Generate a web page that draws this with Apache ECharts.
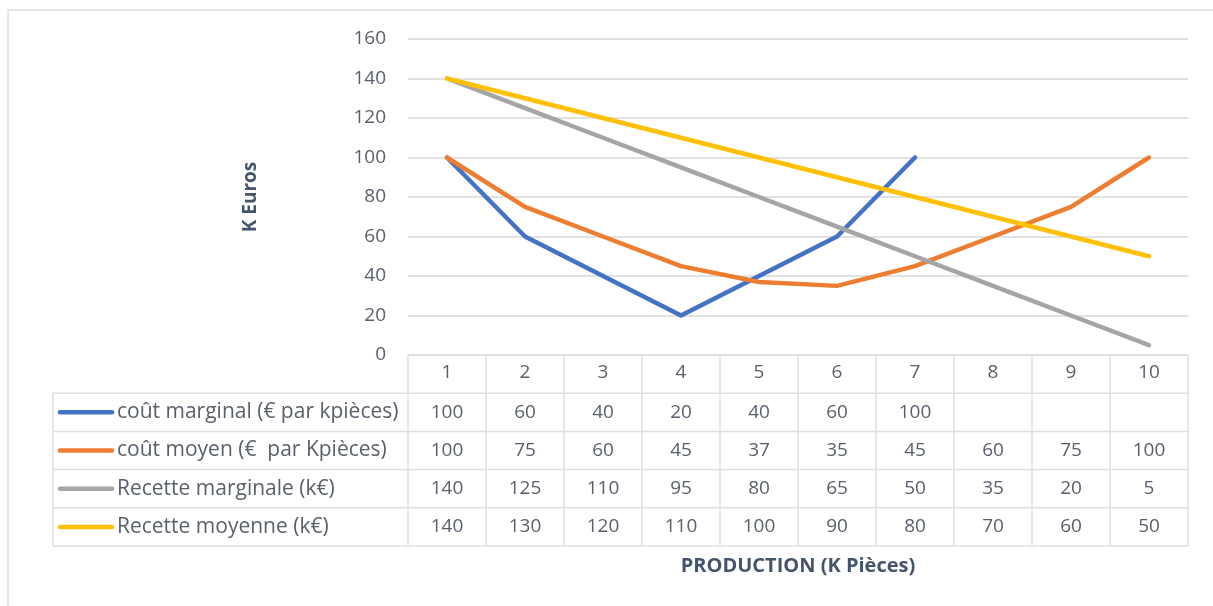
<!DOCTYPE html>
<html>
<head>
<meta charset="utf-8">
<script src="https://cdn.jsdelivr.net/npm/echarts@6/dist/echarts.min.js"></script>
<style>
  html, body { margin: 0; padding: 0; background: #fff; }
  #chart { width: 1213px; height: 606px; }
</style>
</head>
<body>
<div id="chart"></div>
<script>
// production levels (K pièces)
const production = ["1", "2", "3", "4", "5", "6", "7", "8", "9", "10"];
const coutMarginal = [100, 60, 40, 20, 40, 60, 100, null, null, null];
const coutMoyen = [100, 75, 60, 45, 37, 35, 45, 60, 75, 100];
const recetteMarginale = [140, 125, 110, 95, 80, 65, 50, 35, 20, 5];
const recetteMoyenne = [140, 130, 120, 110, 100, 90, 80, 70, 60, 50];
const seriesNames = [
  "coût marginal (€ par kpièces)",
  "coût moyen (€  par Kpièces)",
  "Recette marginale (k€)",
  "Recette moyenne (k€)"
];
const colors = ["#4472C4", "#ED7D31", "#A5A5A5", "#FFC000"];
const allData = [coutMarginal, coutMoyen, recetteMarginale, recetteMoyenne];

const FONT = "'Open Sans', 'Noto Sans', sans-serif";
const TXT = "#595f6b";
const LINE = "#dcdfe4";
const G_LEFT = 408, G_RIGHT = 25, G_TOP = 39, G_BOTTOM = 251;
const ROW_H = 38.2;
const TABLE_LEFT = 53;

let myChart = echarts.init(document.getElementById("chart"));

myChart.setOption({
  animation: false,
  color: colors,
  grid: { left: G_LEFT, right: G_RIGHT, top: G_TOP, bottom: G_BOTTOM },
  xAxis: {
    type: "category",
    data: production,
    boundaryGap: true,
    axisLine: { show: false },
    axisTick: { show: false },
    axisLabel: { color: TXT, fontSize: 19, fontFamily: FONT, margin: 8 },
    name: "PRODUCTION (K Pièces)",
    nameLocation: "middle",
    nameGap: 201,
    nameTextStyle: { color: "#44546a", fontSize: 20, fontWeight: "bold", fontFamily: FONT }
  },
  yAxis: {
    type: "value",
    min: 0,
    max: 160,
    interval: 20,
    axisLine: { show: false },
    axisTick: { show: false },
    splitLine: { lineStyle: { color: "#d9d9d9", width: 1.5 } },
    axisLabel: { color: TXT, fontSize: 19, fontFamily: FONT, margin: 22 },
    name: "K Euros",
    nameLocation: "middle",
    nameRotate: 90,
    nameGap: 148,
    nameTextStyle: { color: "#44546a", fontSize: 19, fontWeight: "bold", fontFamily: FONT }
  },
  series: seriesNames.map((n, i) => ({
    name: n,
    type: "line",
    data: allData[i],
    showSymbol: false,
    symbol: "none",
    lineStyle: { width: 4.5, color: colors[i], cap: "round", join: "round" },
    z: 2 + i
  }))
});

// data table under the plot, placed from the axis scale
function drawTable() {
  const els = [];
  const y0 = myChart.convertToPixel({ yAxisIndex: 0 }, 0);
  const x0 = G_LEFT;
  const x1 = 1213 - G_RIGHT;
  const band = (x1 - x0) / production.length;
  const bottom = y0 + ROW_H * 5;

  // outer frame of the chart area
  els.push({ type: "rect", shape: { x: 8, y: 10, width: 1230, height: 620 },
    style: { fill: null, stroke: LINE, lineWidth: 1.5 }, silent: true, z: 0 });

  // horizontal lines
  els.push({ type: "line", shape: { x1: x0, y1: y0, x2: x1, y2: y0 },
    style: { stroke: LINE, lineWidth: 1.5 }, z: 1 });
  for (let r = 1; r <= 5; r++) {
    const y = y0 + ROW_H * r;
    els.push({ type: "line", shape: { x1: TABLE_LEFT, y1: y, x2: x1, y2: y },
      style: { stroke: LINE, lineWidth: 1.5 }, z: 1 });
  }
  // vertical lines
  els.push({ type: "line", shape: { x1: TABLE_LEFT, y1: y0 + ROW_H, x2: TABLE_LEFT, y2: bottom },
    style: { stroke: LINE, lineWidth: 1.5 }, z: 1 });
  for (let c = 0; c <= production.length; c++) {
    const x = x0 + band * c;
    els.push({ type: "line", shape: { x1: x, y1: y0, x2: x, y2: bottom },
      style: { stroke: LINE, lineWidth: 1.5 }, z: 1 });
  }

  // rows: key + label + values
  seriesNames.forEach((n, i) => {
    const cy = y0 + ROW_H * (i + 1.5);
    els.push({ type: "line", shape: { x1: 60, y1: cy, x2: 112, y2: cy },
      style: { stroke: colors[i], lineWidth: 4.5, lineCap: "round" }, z: 3 });
    els.push({ type: "text", x: 117, y: cy,
      style: { text: n, fill: TXT, font: "21px " + FONT, textVerticalAlign: "middle", textAlign: "left" }, z: 3 });
    allData[i].forEach((v, j) => {
      if (v === null) return;
      const cx = myChart.convertToPixel({ xAxisIndex: 0 }, production[j]);
      els.push({ type: "text", x: cx, y: cy,
        style: { text: String(v), fill: TXT, font: "19px " + FONT, textAlign: "center", textVerticalAlign: "middle" }, z: 3 });
    });
  });

  myChart.setOption({ graphic: { elements: els } });
}
drawTable();
</script>
</body>
</html>
